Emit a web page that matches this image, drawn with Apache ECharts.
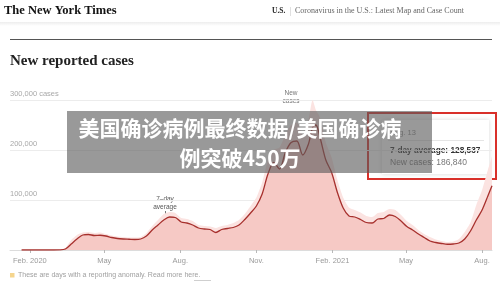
<!DOCTYPE html>
<html><head><meta charset="utf-8">
<script src="https://cdn.jsdelivr.net/npm/echarts@6/dist/echarts.min.js"></script>
<style>html,body{margin:0;padding:0;background:#fff}#c{width:500px;height:285px}</style>
</head><body><div id="c"></div>
<script>
// ---- data ----
const dates = ['2020-01-22','2020-02-15','2020-03-01','2020-03-08','2020-03-15','2020-03-22','2020-03-29','2020-04-05','2020-04-12','2020-04-19','2020-04-26','2020-05-03','2020-05-10','2020-05-17','2020-05-24','2020-05-31','2020-06-07','2020-06-14','2020-06-21','2020-06-28','2020-07-05','2020-07-12','2020-07-19','2020-07-26','2020-08-02','2020-08-09','2020-08-16','2020-08-23','2020-08-30','2020-09-06','2020-09-13','2020-09-20','2020-09-27','2020-10-04','2020-10-11','2020-10-18','2020-10-25','2020-11-01','2020-11-08','2020-11-15','2020-11-22','2020-11-29','2020-12-06','2020-12-13','2020-12-20','2020-12-27','2021-01-03','2021-01-08','2021-01-12','2021-01-17','2021-01-24','2021-01-31','2021-02-07','2021-02-14','2021-02-21','2021-02-28','2021-03-07','2021-03-14','2021-03-21','2021-03-28','2021-04-04','2021-04-11','2021-04-18','2021-04-25','2021-05-02','2021-05-09','2021-05-16','2021-05-23','2021-05-30','2021-06-06','2021-06-13','2021-06-20','2021-06-27','2021-07-04','2021-07-11','2021-07-18','2021-07-25','2021-08-01','2021-08-08','2021-08-13'];
const avgCases = [0,0,0,200,2000,12000,22000,30000,31000,29000,29500,28000,25000,23000,22000,21500,21000,22000,28000,40000,50000,60000,66000,65000,56000,54000,50000,44000,42000,41000,35000,41000,43000,45000,50000,61000,74000,88000,112000,152000,175000,162000,195000,215000,218000,190000,212000,245000,250000,225000,180000,155000,115000,84000,68000,66000,61000,55000,54000,62000,63000,70000,67000,58000,47000,40000,32000,25000,18000,15000,13000,11500,12000,14000,22000,38000,60000,80000,108000,128537];
const dailyCases = [0,0,0,300,4000,20000,30000,35000,36000,34000,35000,32000,29000,27000,26000,25000,25000,26000,34000,48000,60000,72000,76000,74000,64000,62000,58000,50000,48000,47000,44000,48000,50000,54000,60000,72000,88000,105000,135000,180000,200000,205000,230000,250000,255000,230000,260000,300000,280000,265000,215000,185000,140000,105000,85000,80000,75000,68000,66000,74000,76000,82000,80000,70000,58000,50000,40000,32000,26000,21000,18000,16000,17000,22000,36000,55000,90000,120000,160000,186840];
const yTicks = [0, 100000, 200000, 300000];
const yTickLabels = ['', '100,000', '200,000', '300,000 cases'];
const xTickDates = ['2020-02-01','2020-05-01','2020-08-01','2020-11-01','2021-02-01','2021-05-01','2021-08-01'];
const xTickLabels = ['Feb. 2020','May','Aug.','Nov.','Feb. 2021','May','Aug.'];

function ts(s){const p=s.split('-').map(Number);return Date.UTC(p[0],p[1]-1,p[2]);}
const xTickTs = xTickDates.map(ts);

const chart = echarts.init(document.getElementById('c'), null, {renderer:'canvas'});
const SANS = '"Liberation Sans", Arial, sans-serif';
const SERIF = '"Liberation Serif", "DejaVu Serif", serif';

chart.setOption({
  animation:false,
  backgroundColor:'#fff',
  grid:{left:10,right:8,top:100,bottom:35,containLabel:false,outerBoundsMode:'none'},
  xAxis:{
    type:'value', min:ts('2020-01-08'), max:ts('2021-08-13'),
    axisLine:{show:true,lineStyle:{color:'#dcdcdc',width:1}},
    axisTick:{show:true,customValues:xTickTs,length:3,lineStyle:{color:'#b8b8b8'}},
    axisLabel:{customValues:xTickTs,color:'#9a9a9a',fontSize:7.5,fontFamily:SANS,margin:7,hideOverlap:false,
      formatter:function(v){const i=xTickTs.findIndex(t=>Math.abs(t-v)<43200000);return i>=0?xTickLabels[i]:'';}},
    splitLine:{show:false}
  },
  yAxis:{
    type:'value', min:0, max:300000, interval:100000,
    axisLine:{show:false}, axisTick:{show:false},
    axisLabel:{inside:true,margin:0,color:'#a8a8a8',fontSize:7.5,fontFamily:SANS,verticalAlign:'bottom',padding:[0,0,2,0],
      formatter:function(v){const i=yTicks.indexOf(v);return i>=0?yTickLabels[i]:'';}},
    splitLine:{show:true,lineStyle:{color:'#ececec',width:1}}
  },
  series:[
    {type:'line',name:'New cases',data:dates.map((d,i)=>[ts(d),dailyCases[i]]),symbol:'none',smooth:0.2,
     lineStyle:{width:0,opacity:0},areaStyle:{color:'#fbe3e1',opacity:1},z:1,silent:true},
    {type:'line',name:'7-day average',data:dates.map((d,i)=>[ts(d),avgCases[i]]),symbol:'none',smooth:0.3,
     lineStyle:{width:1.3,color:'#a7302d'},areaStyle:{color:'#f6c9c5',opacity:1},z:2,silent:true}
  ],
  graphic:[
    {type:'text',left:4,top:4,style:{text:'The New York Times',font:'bold 12.5px '+SERIF,fill:'#111'}},
    {type:'text',left:272,top:7,style:{text:'U.S.',font:'bold 7.5px '+SERIF,fill:'#222'}},
    {type:'rect',shape:{x:290,y:7,width:0.6,height:9},style:{fill:'#ccc'}},
    {type:'text',left:295,top:6.5,style:{text:'Coronavirus in the U.S.: Latest Map and Case Count',font:'8px '+SERIF,fill:'#666'}},
    {type:'rect',shape:{x:0,y:22,width:500,height:4},style:{fill:new echarts.graphic.LinearGradient(0,0,0,1,[{offset:0,color:'rgba(0,0,0,0.07)'},{offset:1,color:'rgba(0,0,0,0)'}])}},
    {type:'rect',shape:{x:10,y:39,width:482,height:1},style:{fill:'#555'}},
    {type:'text',left:10,top:54,style:{text:'New reported cases',font:'bold 15px '+SERIF,fill:'#222'}},
    {type:'text',style:{text:'New\ncases',x:291,y:97,font:'6.5px '+SANS,fill:'#777',align:'center',verticalAlign:'middle',lineHeight:8}},
    {type:'line',shape:{x1:301,y1:100.5,x2:307,y2:100.5},style:{stroke:'#888',lineWidth:0.8}},
    {type:'text',style:{text:'7\u2013day\naverage',x:165,y:203,font:'6.5px '+SANS,fill:'#555',align:'center',verticalAlign:'middle',lineHeight:8.5}},
    {type:'line',shape:{x1:165.5,y1:211,x2:165.5,y2:218},style:{stroke:'#555',lineWidth:0.8}},
    {type:'rect',shape:{x:10,y:273,width:4.5,height:4.5},style:{fill:'#f5d58e'}},
    {type:'text',left:18,top:271.5,style:{text:'These are days with a reporting anomaly. Read more here.',font:'7px '+SANS,fill:'#a0a0a0'}},
    {type:'rect',shape:{x:194,y:280,width:17,height:0.6},style:{fill:'#b0b0b0'}},
    {type:'rect',shape:{x:382,y:120,width:107,height:54},style:{fill:'#fff',shadowBlur:4,shadowColor:'rgba(0,0,0,0.15)'}},
    {type:'text',style:{text:'Aug. 13',x:390,y:133,font:'7.5px '+SANS,fill:'#888',verticalAlign:'middle'}},
    {type:'rect',shape:{x:388,y:140,width:96,height:0.7},style:{fill:'#ddd'}},
    {type:'text',style:{text:'7-day average: 128,537',x:390,y:151,font:'bold 8.3px '+SANS,fill:'#333',verticalAlign:'middle'}},
    {type:'text',style:{text:'New cases: 186,840',x:390,y:163,font:'8.5px '+SANS,fill:'#777',verticalAlign:'middle'}},
    {type:'rect',shape:{x:368,y:113,width:128,height:66},style:{fill:'none',stroke:'#d9302a',lineWidth:2}},
    {type:'line',shape:{x1:489,y1:180,x2:487,y2:188},style:{stroke:'#d9302a',lineWidth:1.2}},
    {type:'rect',shape:{x:67,y:111,width:365,height:62},style:{fill:'rgba(90,90,90,0.62)'},z:100},
    {type:'text',style:{text:'美国确诊病例最终数据/美国确诊病',x:240,y:128,font:'bold 21px "Noto Sans CJK SC", sans-serif',fill:'#fff',align:'center',verticalAlign:'middle'},z:101},
    {type:'text',style:{text:'例突破450万',x:240,y:158,font:'bold 21px "Noto Sans CJK SC", sans-serif',fill:'#fff',align:'center',verticalAlign:'middle'},z:101}
  ]
});
</script></body></html>
